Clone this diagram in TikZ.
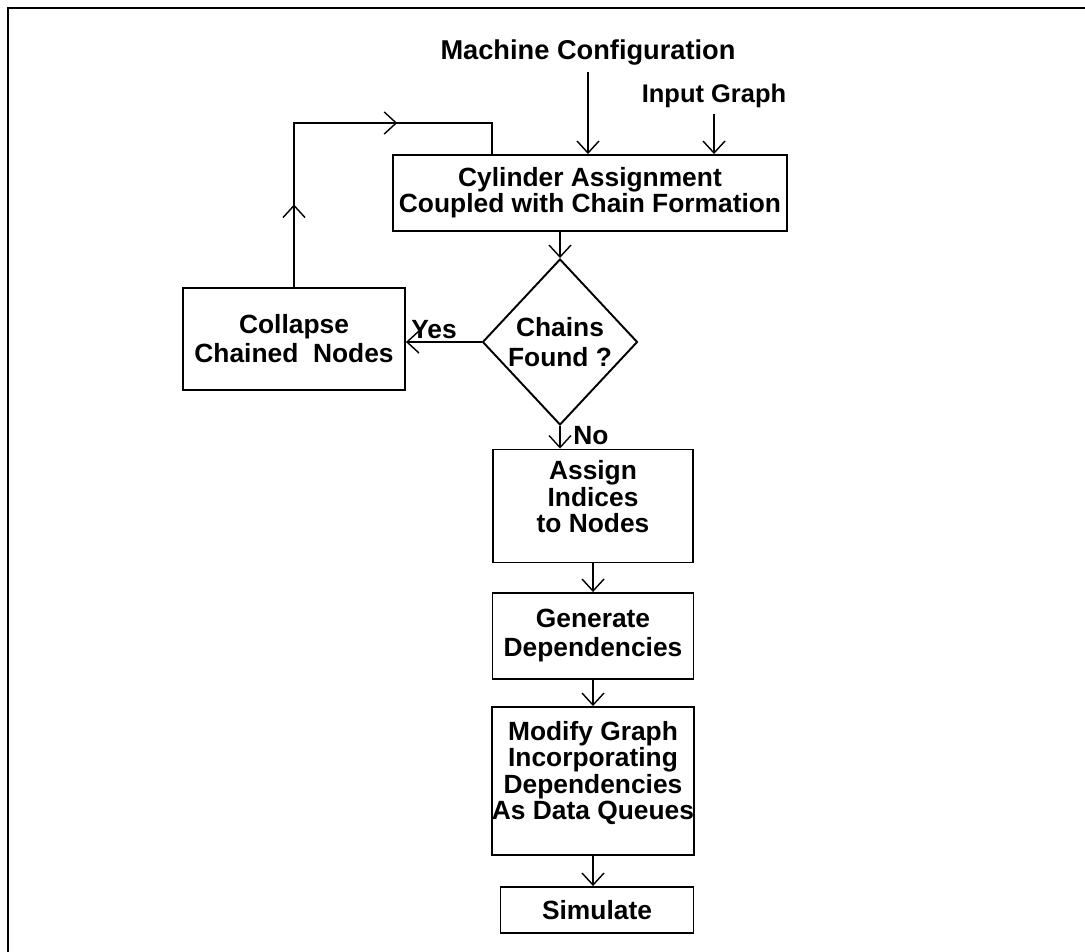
\documentclass[tikz,border=0pt]{standalone}
\usepackage{fontspec}
\setmainfont{Liberation Sans}
\usetikzlibrary{shapes.geometric,arrows.meta,decorations.markings}

\begin{document}
\begin{tikzpicture}[
    x=0.02cm, y=-0.02cm,
    every node/.style={font=\bfseries\fontsize{15}{15}\selectfont},
    wide/.style={font=\bfseries\fontsize{15}{16.5}\selectfont},
    block/.style={rectangle,draw,line width=1.1pt,inner sep=0pt,align=center},
    decision/.style={diamond,draw,line width=1.1pt,inner sep=0pt,align=center,
                     minimum width=3.1cm,minimum height=3.32cm,
                     font=\bfseries\fontsize{15}{17.5}\selectfont},
    flow/.style={line width=0.8pt,-{Straight Barb[length=2.4mm,width=4.4mm]}},
    loopline/.style={line width=0.8pt,postaction={decorate},
        decoration={markings,
          mark=at position 0.21 with {\arrow{Straight Barb[length=2.4mm,width=4.4mm]}},
          mark=at position 0.68 with {\arrow{Straight Barb[length=2.4mm,width=4.4mm]}}}}
    ]

    % frame:
    \useasboundingbox (0,0) rectangle (1085,952);
    \draw [line width=1.6pt] (8,952) -- (8,8) -- (1085,8);

    % inputs:
    \node (machine) at (588,60) [anchor=base,font=\bfseries\fontsize{15.5}{16}\selectfont] {Machine Configuration};
    \node (input) at (714,103) [anchor=base,font=\bfseries\fontsize{14.5}{15}\selectfont] {Input Graph};

    % top box and decision:
    \node (cyl) at (590,193) [block,minimum width=7.88cm,minimum height=1.52cm] {Cylinder Assignment\\Coupled with Chain Formation};
    \node (chains) at (560,342) [decision] {Chains\\Found ?};
    \node (collapse) at (294,339) [block,wide,minimum width=4.44cm,minimum height=2.04cm] {Collapse\\Chained\ \ Nodes};

    % labels:
    \node (yes) at (434,330) {Yes};
    \node (no) at (591,436) {No};

    % column of steps:
    \node (assign) at (593,506) [block,text depth=0.38cm,minimum width=4cm,minimum height=2.26cm] {Assign\\Indices\\to Nodes};
    \node (generate) at (593,636) [block,wide,minimum width=4.02cm,minimum height=1.72cm] {Generate\\Dependencies};
    \node (modify) at (593,781) [block,text depth=0.42cm,minimum width=4.02cm,minimum height=2.96cm] {Modify Graph\\Incorporating\\Dependencies\\As Data Queues};
    \node (simulate) at (597,910) [block,minimum width=3.86cm,minimum height=0.92cm] {Simulate};

    % loop back:
    \coordinate (c2) at (492,123);

    % connect nodes:
    \draw [flow] (machine) to (machine |- cyl.north);
    \draw [flow] (input) to (input |- cyl.north);
    \draw [flow] (cyl.south -| chains.north) to (chains.north);
    \draw [flow] (chains.west) to (chains.west -| collapse.east);
    \draw [flow] (chains.south) to (chains.south |- assign.north);
    \draw [flow] (assign) to (generate);
    \draw [flow] (generate) to (modify);
    \draw [flow] (modify) to (modify |- simulate.north);
    \draw [loopline] (collapse.north) -- (collapse.north |- c2) -- (c2) -- (c2 |- cyl.north);

  \end{tikzpicture}
\end{document}
